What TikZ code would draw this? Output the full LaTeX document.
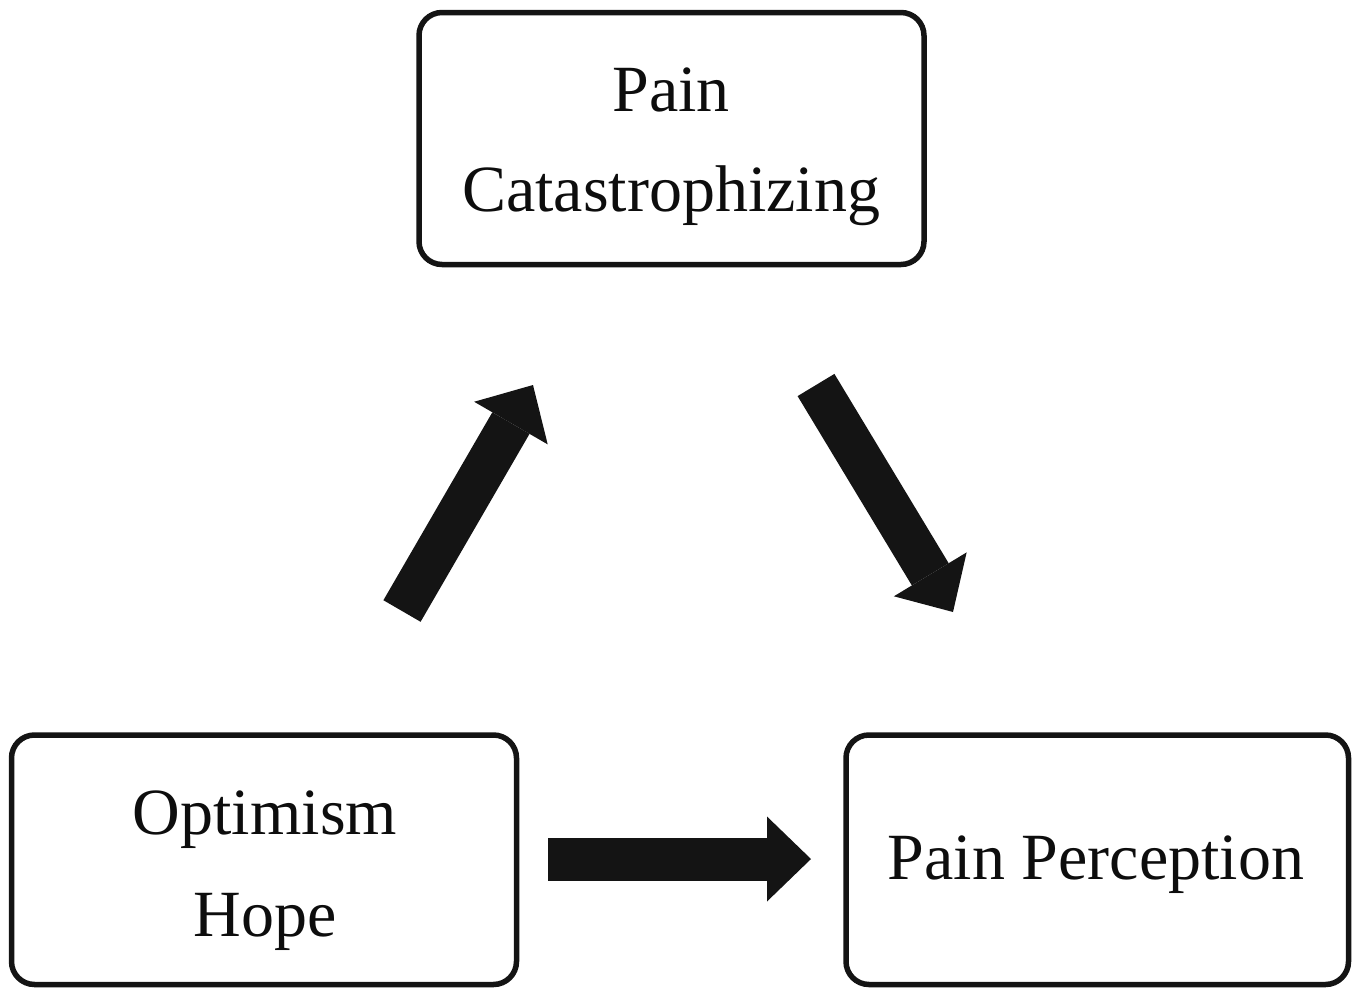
\documentclass[tikz,border=0pt]{standalone}
\usepackage{fontspec}
\setmainfont{Liberation Serif}
\usetikzlibrary{arrows.meta}
\tikzset{
  box/.style={draw=black!92, line width=5.5pt, rounded corners=23pt, inner sep=0pt},
  lbl/.style={anchor=base, inner sep=0pt, font=\fontsize{66}{100}\selectfont, text=black!95},
  bigarrow/.style={draw=black!92, line width=43pt,
    -{Triangle[length=44pt,width=85pt,line width=0pt]}},
}
\begin{document}
\begin{tikzpicture}[x=1pt,y=-1pt]
\useasboundingbox (0,0) rectangle (1360,988);
% boxes
\node[box, minimum width=505pt, minimum height=252pt] (cat) at (671.5,138.5) {};
\node[box, minimum width=505pt, minimum height=249.5pt] (opt) at (264,859.75) {};
\node[box, minimum width=502.5pt, minimum height=249.5pt] (perc) at (1097.25,859.75) {};
% labels
\node[lbl] (catA) at (671,111) {Pain};
\node[lbl] (catB) at (671,211) {Catastrophizing};
\node[lbl] (optA) at (265,834) {Optimism};
\node[lbl] (optB) at (265,936) {Hope};
\node[lbl] (percA) at (1096,879) {Pain Perception};
% arrow ends
\coordinate (upT) at (402,611);
\coordinate (upH) at (533,385);
\coordinate (dnT) at (816,385);
\coordinate (dnH) at (953,612);
\coordinate (hzT) at (548,859);
\coordinate (hzH) at (811,859);
\draw[bigarrow] (upT) -- (upH);
\draw[bigarrow] (dnT) -- (dnH);
\draw[bigarrow] (hzT) -- (hzH);
\end{tikzpicture}
\end{document}
